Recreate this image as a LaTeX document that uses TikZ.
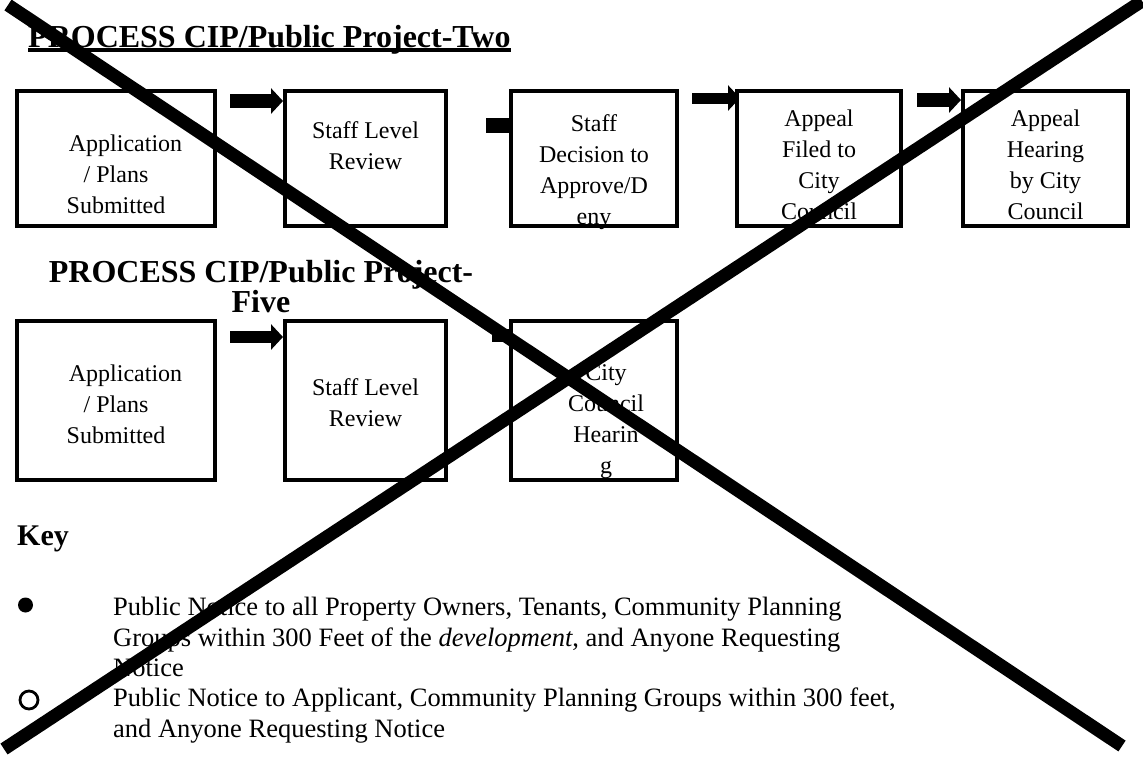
\documentclass[tikz,border=0pt]{standalone}
\usepackage{fontspec}
\setmainfont{Liberation Serif}
\usetikzlibrary{arrows.meta,positioning}
\pgfdeclarelayer{background}
\pgfsetlayers{background,main}

\begin{document}
\begin{tikzpicture}[
        x=1pt, y=-1pt,
        stagebox/.style={rectangle, draw, fill=white, line width=4pt, inner sep=0pt, outer sep=0pt, anchor=north west},
        stagetext/.style={align=center, inner sep=0pt, font=\fontsize{24}{31}\selectfont},
        heading/.style={inner sep=0pt, font=\bfseries\fontsize{32}{30}\selectfont},
        keytext/.style={align=left, inner sep=0pt, anchor=north west, font=\fontsize{26.5}{30.5}\selectfont},
        flow/.style={line width=14pt, -{Triangle[length=12pt, width=25pt]}},
        cross/.style={line width=13pt}
    ]
        \useasboundingbox (0,0) rectangle (1143,772);

        % Process two
        \node[heading, anchor=base west] (title_two) at (28,47) {PROCESS CIP/Public Project-Two};
        \draw[line width=3.3pt] ([shift={(0,3)}]title_two.base west) -- ([shift={(0,3)}]title_two.base east);

        \node[stagebox, minimum width=198pt, minimum height=135pt] (app_two) at (17,91) {};
        \node[stagetext, below=43.5pt of app_two.north] (app_two_txt) {\hspace*{19pt}Application\\ / Plans\\ Submitted};

        \node[stagebox, minimum width=161pt, minimum height=135pt] (rev_two) at (285,91) {};
        \node[stagetext, below=30.5pt of rev_two.north] (rev_two_txt) {Staff Level\\ Review};

        \node[stagebox, minimum width=166pt, minimum height=135pt] (dec_two) at (511,91) {};
        \node[stagetext, below=23.5pt of dec_two.north] (dec_two_txt) {Staff\\ Decision to\\ Approve/D\\ eny};

        \node[stagebox, minimum width=164pt, minimum height=135pt] (fil_two) at (737,91) {};
        \node[stagetext, below=18.5pt of fil_two.north] (fil_two_txt) {Appeal\\ Filed to\\ City\\ Council};

        \node[stagebox, minimum width=165pt, minimum height=135pt] (hear_two) at (963,91) {};
        \node[stagetext, below=18.5pt of hear_two.north] (hear_two_txt) {Appeal\\ Hearing\\ by City\\ Council};

        % Process five
        \node[heading, align=center, anchor=north] (title_five) at (261,260) {PROCESS CIP/Public Project-\\ Five};

        \node[stagebox, minimum width=198pt, minimum height=159pt] (app_five) at (17,321) {};
        \node[stagetext, below=43.5pt of app_five.north] (app_five_txt) {\hspace*{19pt}Application\\ / Plans\\ Submitted};

        \node[stagebox, minimum width=161pt, minimum height=159pt] (rev_five) at (285,321) {};
        \node[stagetext, below=57.5pt of rev_five.north] (rev_five_txt) {Staff Level\\ Review};

        \node[stagebox, minimum width=166pt, minimum height=159pt] (cc_five) at (511,321) {};
        \node[stagetext, below=43.5pt of cc_five.north, xshift=12pt] (cc_five_txt) {City\\ Council\\ Hearin\\ g};

        % Arrows (partly behind the boxes)
        \begin{pgfonlayer}{background}
        \fill[white] (0,0) rectangle (1143,772);
        \draw[flow] ([shift={(15,10)}]app_two.north east) -- ([shift={(-2,10)}]rev_two.north west);
        \draw[flow, line width=15pt] ([shift={(-25,34.5)}]dec_two.north west) -- ([shift={(40,34.5)}]dec_two.north west);
        \draw[flow, line width=11pt] ([shift={(-45,7)}]fil_two.north west) -- ([shift={(3,7)}]fil_two.north west);
        \draw[flow] ([shift={(16,9)}]fil_two.north east) -- ([shift={(-2,9)}]hear_two.north west);
        \draw[flow, line width=12pt] ([shift={(15,16)}]app_five.north east) -- ([shift={(-2,16)}]rev_five.north west);
        \draw[flow, line width=13pt] ([shift={(-19,14.5)}]cc_five.north west) -- ([shift={(40,14.5)}]cc_five.north west);
        \end{pgfonlayer}

        % Key
        \node[anchor=base west, inner sep=0pt, font=\bfseries\fontsize{30}{30}\selectfont] (key_title) at (17,545) {Key};
        \node[circle, fill, inner sep=0pt, minimum size=15pt] (dot_one) at (25.5,605) {};
        \node[keytext] (notice_one) at (113,597) {Public Notice to all Property Owners, Tenants, Community Planning\\ Groups within 300 Feet of the \textit{development}, and Anyone Requesting\\ Notice};
        \node[circle, draw, line width=2.8pt, inner sep=0pt, minimum size=18pt] (ring_two) at (29,700) {};
        \node[keytext] (notice_two) at (113,688) {Public Notice to Applicant, Community Planning Groups within 300 feet,\\ and Anyone Requesting Notice};

        % Cross over the page
        \draw[cross] (8,5) -- (1122,746);
        \draw[cross] (1142,1) -- (4,749);

    \end{tikzpicture}
\end{document}
